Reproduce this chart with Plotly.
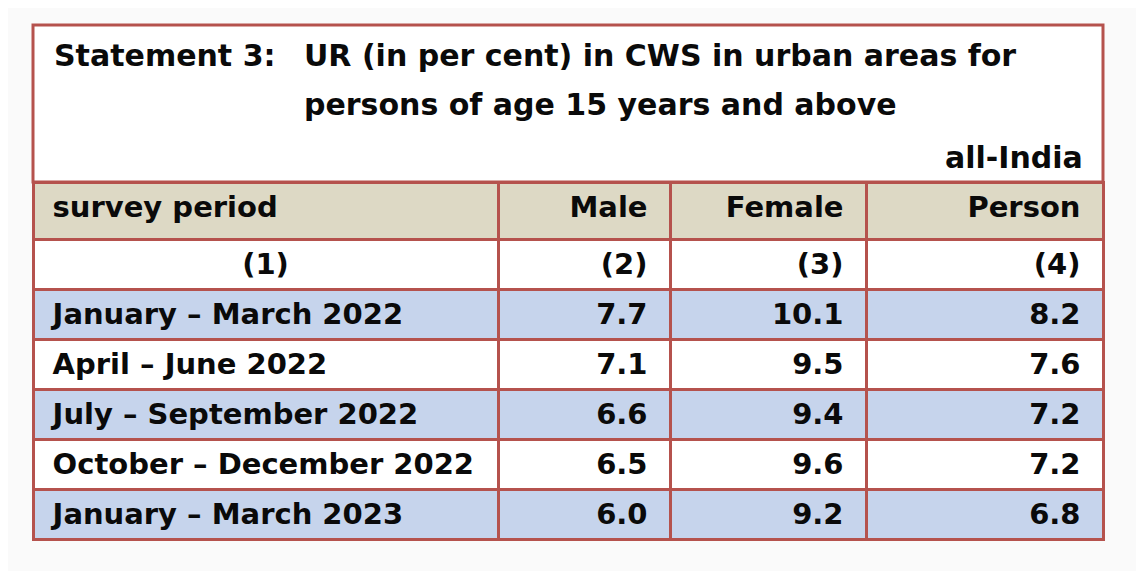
import plotly.graph_objects as go

# ---- data ----
periods = ["January – March 2022", "April – June 2022", "July – September 2022",
           "October – December 2022", "January – March 2023"]
male = [7.7, 7.1, 6.6, 6.5, 6.0]
female = [10.1, 9.5, 9.4, 9.6, 9.2]
person = [8.2, 7.6, 7.2, 7.2, 6.8]
col_headers = ["survey period", "Male", "Female", "Person"]
col_numbers = ["(1)", "(2)", "(3)", "(4)"]
title_left = "Statement 3:"
title_lines = ["UR (in per cent) in CWS in urban areas for", "persons of age 15 years and above"]
region = "all-India"

W, H = 1144, 571
OFF = 8  # page body margin offset
BORDER = "#B5524D"
TAN = "#DDD9C5"
BLUE = "#C6D4EC"
TXT = "#0A0A0A"
FONT = "DejaVu Sans"
FS = 29
PAD = "\u2002"
LPAD = "\u2009"

def b(s):
    return f"<b>{s}</b>"

def px(x):
    return (x - OFF) / W

def py(y):
    return 1 - (y - OFF) / H

fmt = lambda v: f"{v:.1f}"
data_cols = [
    [b(p) for p in periods],
    [b(fmt(v)) for v in male],
    [b(fmt(v)) for v in female],
    [b(fmt(v)) for v in person],
]
row_fill = [BLUE if i % 2 == 0 else "white" for i in range(len(periods))]

left, right = 33, 1103
title_top = 25
table_top = 182
header_h = 57
row_h = 50
data_top = table_top + header_h + row_h
cw = [465, 172, 196, 237]
line = dict(color=BORDER, width=3)
font = dict(family=FONT, size=FS, color=TXT)
ralign = ["left", "right", "right", "right"]
prefix = [LPAD, "", "", ""]
suffix = ["", PAD, PAD, PAD]

fig = go.Figure()
# column headings + column numbers
fig.add_trace(go.Table(
    domain=dict(x=[px(left), px(right)], y=[py(data_top), py(table_top)]),
    columnwidth=cw,
    header=dict(values=[b(h) for h in col_headers], fill_color=TAN, line=line,
                align=ralign, font=font, height=header_h, prefix=prefix, suffix=suffix),
    cells=dict(values=[[b(c)] for c in col_numbers], fill_color="white", line=line,
               align=["center", "right", "right", "right"], font=font, height=row_h,
               suffix=suffix),
))
# data rows (first data row drawn as this table's header row)
fig.add_trace(go.Table(
    domain=dict(x=[px(left), px(right)], y=[0, py(data_top)]),
    columnwidth=cw,
    header=dict(values=[c[0] for c in data_cols], fill_color=row_fill[0], line=line,
                align=ralign, font=font, height=row_h, prefix=prefix, suffix=suffix),
    cells=dict(values=[c[1:] for c in data_cols], fill_color=[row_fill[1:]] * 4, line=line,
               align=ralign, font=font, height=row_h, prefix=prefix, suffix=suffix),
))

fig.add_shape(type="rect", xref="paper", yref="paper",
              x0=px(left), x1=px(right), y0=py(table_top), y1=py(title_top),
              line=line, fillcolor="white", layer="below")

tfont = dict(family=FONT, size=30, color=TXT)
fig.add_annotation(x=px(52), y=py(55), xref="paper", yref="paper", text=b(title_left),
                   showarrow=False, xanchor="left", yanchor="middle", font=tfont)
fig.add_annotation(x=px(302), y=py(55), xref="paper", yref="paper", text=b(title_lines[0]),
                   showarrow=False, xanchor="left", yanchor="middle", font=tfont)
fig.add_annotation(x=px(302), y=py(105), xref="paper", yref="paper", text=b(title_lines[1]),
                   showarrow=False, xanchor="left", yanchor="middle", font=tfont)
fig.add_annotation(x=px(1085), y=py(157), xref="paper", yref="paper", text=b(region),
                   showarrow=False, xanchor="right", yanchor="middle", font=tfont)

fig.update_layout(width=W, height=H, margin=dict(l=0, r=0, t=0, b=0),
                  paper_bgcolor="#FAFAFA", plot_bgcolor="#FAFAFA")
fig.write_html("out.html")
